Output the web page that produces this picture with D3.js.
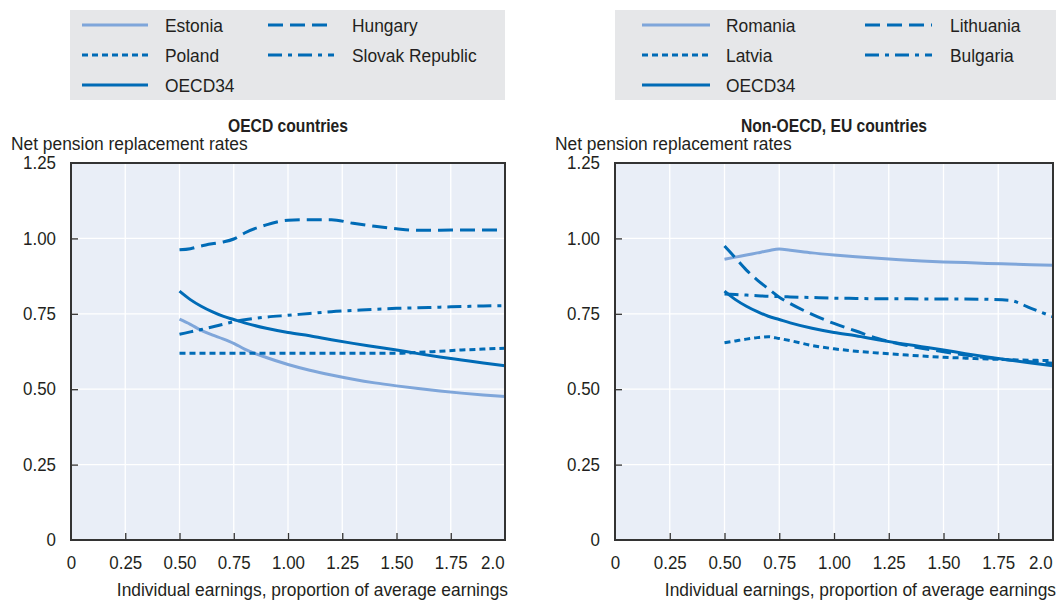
<!DOCTYPE html>
<html>
<head>
<meta charset="utf-8">
<script src="https://cdn.jsdelivr.net/npm/d3@7"></script>
<style>
  html, body { margin: 0; padding: 0; background: #fff; }
  svg { display: block; }
  text { font-family: "Liberation Sans", Arial, sans-serif; fill: #231f20; }
</style>
</head>
<body>
<svg id="chart" width="1056" height="601"></svg>
<script>
// ---- Data ----
const earnings = [0.5, 0.55, 0.6, 0.65, 0.7, 0.75, 0.8, 0.9, 1.0, 1.1, 1.2, 1.3, 1.4, 1.5, 1.6, 1.7, 1.8, 1.9, 2.0];

const estonia        = [0.732, 0.715, 0.695, 0.680, 0.667, 0.652, 0.633, 0.605, 0.582, 0.563, 0.547, 0.533, 0.521, 0.511, 0.502, 0.494, 0.487, 0.481, 0.476];
const hungary        = [0.962, 0.966, 0.975, 0.982, 0.988, 0.998, 1.018, 1.045, 1.060, 1.062, 1.062, 1.050, 1.040, 1.032, 1.027, 1.027, 1.028, 1.028, 1.028];
const poland         = [0.619, 0.619, 0.619, 0.619, 0.619, 0.619, 0.619, 0.619, 0.619, 0.619, 0.619, 0.619, 0.619, 0.619, 0.622, 0.626, 0.630, 0.633, 0.636];
const slovakRepublic = [0.682, 0.690, 0.698, 0.706, 0.715, 0.724, 0.730, 0.739, 0.745, 0.751, 0.757, 0.761, 0.765, 0.768, 0.770, 0.772, 0.774, 0.776, 0.777];
const oecd34         = [0.825, 0.797, 0.775, 0.757, 0.742, 0.731, 0.720, 0.702, 0.688, 0.677, 0.664, 0.652, 0.641, 0.630, 0.618, 0.607, 0.597, 0.587, 0.578];

const romania        = [0.931, 0.938, 0.945, 0.952, 0.959, 0.965, 0.961, 0.952, 0.945, 0.939, 0.934, 0.929, 0.925, 0.922, 0.920, 0.917, 0.915, 0.913, 0.911];
const lithuania      = [0.975, 0.935, 0.895, 0.862, 0.833, 0.805, 0.784, 0.748, 0.718, 0.693, 0.668, 0.650, 0.636, 0.624, 0.613, 0.604, 0.597, 0.591, 0.586];
const latvia         = [0.654, 0.660, 0.666, 0.671, 0.674, 0.668, 0.661, 0.645, 0.634, 0.626, 0.620, 0.615, 0.610, 0.606, 0.603, 0.600, 0.598, 0.596, 0.595];
const bulgaria       = [0.816, 0.814, 0.812, 0.810, 0.808, 0.807, 0.806, 0.804, 0.802, 0.801, 0.800, 0.800, 0.799, 0.799, 0.799, 0.798, 0.795, 0.768, 0.740];

const xTicks = [0, 0.25, 0.5, 0.75, 1.0, 1.25, 1.5, 1.75, 2.0];
const xTickLabels = ["0", "0.25", "0.50", "0.75", "1.00", "1.25", "1.50", "1.75", "2.0"];
const yTicks = [0, 0.25, 0.5, 0.75, 1.0, 1.25];
const yTickLabels = ["0", "0.25", "0.50", "0.75", "1.00", "1.25"];

const panelTitles = ["OECD countries", "Non-OECD, EU countries"];
const yAxisTitle = "Net pension replacement rates";
const xAxisTitle = "Individual earnings, proportion of average earnings";

// ---- Styles ----
const DARK = "#006bb6";
const LIGHT = "#7fa6da";
const styles = {
  solidLight: { color: LIGHT, dash: null },
  dashed:     { color: DARK, dash: "15,7" },
  dotted:     { color: DARK, dash: "6,4" },
  dashDot:    { color: DARK, dash: "14,6,4,6" },
  solidDark:  { color: DARK, dash: null }
};

const panels = [
  {
    x0: 71, x1: 505, title: panelTitles[0],
    legend: { x: 70, w: 435, cols: [[82, 148, 165], [268, 334, 352]] },
    series: [
      { name: "Estonia", values: estonia, style: "solidLight", col: 0, row: 0 },
      { name: "Hungary", values: hungary, style: "dashed", col: 1, row: 0 },
      { name: "Poland", values: poland, style: "dotted", col: 0, row: 1 },
      { name: "Slovak Republic", values: slovakRepublic, style: "dashDot", col: 1, row: 1 },
      { name: "OECD34", values: oecd34, style: "solidDark", col: 0, row: 2 }
    ]
  },
  {
    x0: 615, x1: 1053, title: panelTitles[1],
    legend: { x: 615, w: 441, cols: [[642, 710, 726], [865, 932, 950]] },
    series: [
      { name: "Romania", values: romania, style: "solidLight", col: 0, row: 0 },
      { name: "Lithuania", values: lithuania, style: "dashed", col: 1, row: 0 },
      { name: "Latvia", values: latvia, style: "dotted", col: 0, row: 1 },
      { name: "Bulgaria", values: bulgaria, style: "dashDot", col: 1, row: 1 },
      { name: "OECD34", values: oecd34, style: "solidDark", col: 0, row: 2 }
    ]
  }
];

const svg = d3.select("#chart");
const yTop = 163, yBottom = 540;
const FS = 18.5;
const FS_TICK = 18;
const SX = 0.94;     // horizontal condensing to mimic the narrow typeface
const SX_BOLD = 0.87;

function narrowText(parent, x, y, str, opts = {}) {
  const sx = opts.bold ? SX_BOLD : SX;
  const t = parent.append("text")
    .attr("transform", `translate(${x},${y}) scale(${sx},1)`)
    .attr("font-size", opts.size || FS)
    .attr("text-anchor", opts.anchor || "start")
    .text(str);
  if (opts.bold) t.attr("font-weight", "bold");
  if (opts.dy) t.attr("dy", opts.dy);
  return t;
}

panels.forEach(p => {
  const g = svg.append("g");
  const x = d3.scaleLinear().domain([0, 2]).range([p.x0, p.x1]);
  const y = d3.scaleLinear().domain([0, 1.25]).range([yBottom, yTop]);

  // Legend box
  g.append("rect").attr("x", p.legend.x).attr("y", 10).attr("width", p.legend.w).attr("height", 90)
    .attr("fill", "#e6e7e9");
  p.series.forEach(s => {
    const st = styles[s.style];
    const c = p.legend.cols[s.col];
    const ly = 25 + s.row * 30;
    g.append("line").attr("x1", c[0]).attr("x2", c[1]).attr("y1", ly).attr("y2", ly)
      .attr("stroke", st.color).attr("stroke-width", 3.2)
      .attr("stroke-dasharray", st.dash);
    narrowText(g, c[2], ly, s.name, { dy: "0.36em" });
  });

  // Titles
  narrowText(g, (p.x0 + p.x1) / 2, 132, p.title, { anchor: "middle", bold: true, size: 18 });
  narrowText(g, p.x0 - 60, 150, yAxisTitle);

  // Plot background
  g.append("rect").attr("x", p.x0).attr("y", yTop).attr("width", p.x1 - p.x0).attr("height", yBottom - yTop)
    .attr("fill", "#e9eef7");

  // Grid
  g.append("g").selectAll("line").data(xTicks.slice(1, -1)).join("line")
    .attr("x1", d => x(d)).attr("x2", d => x(d)).attr("y1", yTop).attr("y2", yBottom)
    .attr("stroke", "#fff").attr("stroke-width", 1.3);
  g.append("g").selectAll("line").data(yTicks.slice(1, -1)).join("line")
    .attr("x1", p.x0).attr("x2", p.x1).attr("y1", d => y(d)).attr("y2", d => y(d))
    .attr("stroke", "#fff").attr("stroke-width", 1.3);

  // Series
  const line = d3.line().x((d, i) => x(earnings[i])).y(d => y(d)).curve(d3.curveMonotoneX);
  const order = [0, 2, 3, 1, 4];
  order.forEach(k => {
    const s = p.series[k];
    const st = styles[s.style];
    g.append("path").datum(s.values).attr("d", line)
      .attr("fill", "none").attr("stroke", st.color).attr("stroke-width", 3)
      .attr("stroke-dasharray", st.dash);
  });

  // Frame
  g.append("rect").attr("x", p.x0).attr("y", yTop).attr("width", p.x1 - p.x0).attr("height", yBottom - yTop)
    .attr("fill", "none").attr("stroke", "#333").attr("stroke-width", 2);

  // Axes
  const xAxis = d3.axisBottom(x).tickValues(xTicks).tickFormat((d, i) => xTickLabels[i])
    .tickSizeInner(-7).tickSizeOuter(0).tickPadding(16);
  const gx = g.append("g").attr("transform", `translate(0,${yBottom})`).call(xAxis);
  gx.select(".domain").remove();
  gx.selectAll(".tick line").attr("stroke", "#333").attr("stroke-width", 1.3);
  gx.selectAll(".tick text").attr("font-size", FS_TICK).attr("font-family", null).attr("fill", "#231f20")
    .attr("transform", `scale(${SX},1)`)
    .attr("text-anchor", (d, i) => i === xTicks.length - 1 ? "end" : "middle")
    .attr("x", (d, i) => i === xTicks.length - 1 ? -1 : 0);
  gx.selectAll(".tick").filter((d, i) => i === 0 || i === xTicks.length - 1).select("line").remove();

  const yAxis = d3.axisLeft(y).tickValues(yTicks).tickFormat((d, i) => yTickLabels[i])
    .tickSizeInner(-7).tickSizeOuter(0).tickPadding(16);
  const gy = g.append("g").attr("transform", `translate(${p.x0},0)`).call(yAxis);
  gy.select(".domain").remove();
  gy.selectAll(".tick line").attr("stroke", "#333").attr("stroke-width", 1.3);
  gy.selectAll(".tick text").attr("font-size", FS_TICK).attr("font-family", null).attr("fill", "#231f20")
    .attr("transform", `scale(${SX},1)`);
  gy.selectAll(".tick").filter((d, i) => i === 0 || i === yTicks.length - 1).select("line").remove();

  narrowText(g, p.x1 + 3, 596, xAxisTitle, { anchor: "end" });
});
</script>
</body>
</html>
